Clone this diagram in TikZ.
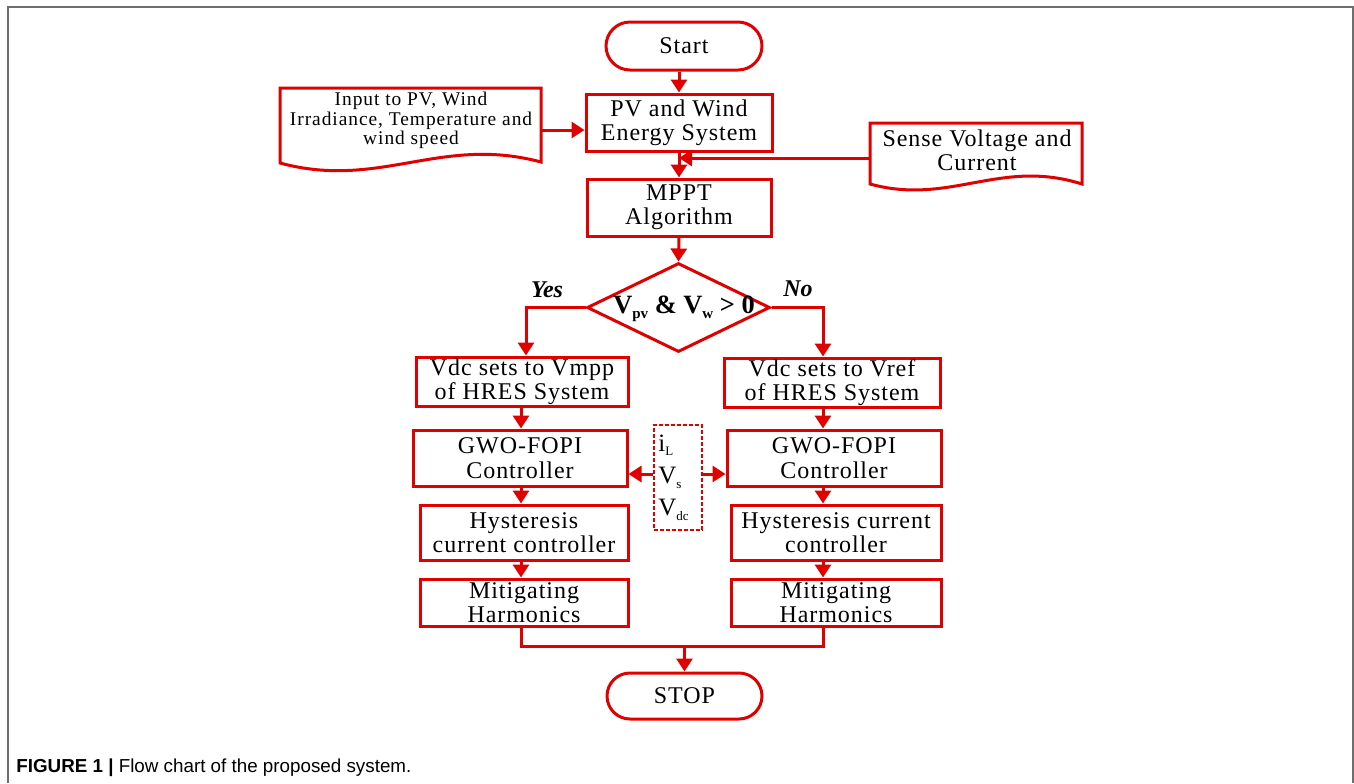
\documentclass[tikz,border=0pt]{standalone}
\usepackage{fontspec}
\setmainfont{Liberation Serif}
\newfontfamily\ffs{Liberation Serif}[LetterSpace=4]
\newfontfamily\ffi{Liberation Serif}[LetterSpace=5]
\newfontfamily\capfont{Liberation Sans}
\usetikzlibrary{shapes.geometric,arrows.meta,calc}
\definecolor{fcred}{RGB}{225,0,0}
\definecolor{framegray}{RGB}{110,110,110}
\begin{document}
\begin{tikzpicture}[x=0.5pt,y=-0.5pt,
  line/.style={draw=fcred,line width=1.5pt},
  arr/.style={line,-{Triangle[length=6.5pt,width=8pt]}},
  box/.style={draw=fcred,line width=1.5pt,rectangle,inner sep=0pt,align=center,font=\ffs\fontsize{12}{12.2}\selectfont},
  term/.style={box,rounded corners=12pt},
  shp/.style={inner sep=0pt,draw=none,rectangle},
  lab/.style={font=\fontsize{12}{13}\selectfont\bfseries\itshape},
]
\useasboundingbox (0,0) rectangle (1354,783);
% frame
\draw[framegray,line width=1pt] (8,783) -- (8,6.5) -- (1352.5,6.5) -- (1352.5,783);

% column coordinates
\coordinate (colY) at (526,0);
\coordinate (colL) at (521,0);
\coordinate (colR) at (823,0);

% nodes
\node[term,minimum width=78pt,minimum height=24pt] (start) at (684,46) {Start};
\node[box,minimum width=93pt,minimum height=28.5pt] (pv) at (679,122.5) {PV and Wind\\Energy System};
\node[box,minimum width=92pt,minimum height=28.5pt] (mppt) at (679,207.5) {MPPT\\Algorithm};
\node[diamond,draw=fcred,line width=1.5pt,inner sep=0pt,minimum width=91.5pt,minimum height=44.5pt] (dec) at (678.5,307.5) {};
\node[anchor=base,font=\fontsize{13.2}{14}\selectfont\bfseries,inner sep=0pt] (dect) at (684,313) {V{\fontsize{7.5}{8}\selectfont\raisebox{-2.5pt}{pv}} \& V{\fontsize{7.5}{8}\selectfont\raisebox{-2.5pt}{w}} > 0};
\node[lab] (yes) at (547,290) {Yes};
\node[lab] (no) at (798,289) {No};

\node[box,minimum width=106pt,minimum height=24.5pt] (vl) at (522,381.5) {Vdc sets to Vmpp\\of HRES System};
\node[box,minimum width=108pt,minimum height=24.5pt] (vr) at (832,382.5) {Vdc sets to Vref\\of HRES System};
\node[box,minimum width=107pt,minimum height=28pt] (gl) at (520,458) {GWO-FOPI\\Controller};
\node[box,minimum width=107pt,minimum height=28pt] (gr) at (834,458) {GWO-FOPI\\Controller};
\node[box,minimum width=104pt,minimum height=27.5pt] (hl) at (524,532.5) {Hysteresis\\current controller};
\node[box,minimum width=105pt,minimum height=27.5pt] (hr) at (836,532.5) {Hysteresis current\\controller};
\node[box,minimum width=104pt,minimum height=23.5pt] (ml) at (524,602.5) {Mitigating\\Harmonics};
\node[box,minimum width=105pt,minimum height=23.5pt] (mr) at (836,602.5) {Mitigating\\Harmonics};
\node[term,minimum width=77.5pt,minimum height=23pt,rounded corners=11.5pt] (stop) at (684.5,696) {STOP};

% measurement box
\node[draw=fcred,line width=1.2pt,dash pattern=on 1.8pt off 1.2pt,minimum width=24pt,minimum height=52.5pt,inner sep=0pt] (meas) at (678,477.5) {};
\node[anchor=west,align=left,inner sep=0pt,font=\fontsize{12.5}{16}\selectfont] (meast) at (658,477.5) {i{\fontsize{6.5}{7}\selectfont\raisebox{-2pt}{L}}\\V{\fontsize{6.5}{7}\selectfont\raisebox{-2.5pt}{s}}\\V{\fontsize{6.5}{7}\selectfont\raisebox{-2.5pt}{dc}}};

% document shapes
\node[shp,minimum width=130.5pt,minimum height=37.5pt] (input) at (410.5,125.5) {};
\draw[line] (280,163) -- (280,88) -- (541,88) -- (541,162) .. controls (440,135) and (380,190) .. (280,163) -- cycle;
\node[align=center,inner sep=0pt,font=\ffi\fontsize{9.7}{9.8}\selectfont] (inputt) at (411,120.5) {Input to PV, Wind\\Irradiance, Temperature and\\wind speed};

\node[shp,minimum width=106pt,minimum height=30.5pt] (sense) at (976,153.5) {};
\draw[line] (870,184) -- (870,123) -- (1082,123) -- (1082,184) .. controls (1000,158) and (950,206) .. (870,184) -- cycle;
\node[align=center,inner sep=0pt,font=\ffs\fontsize{12}{12.2}\selectfont] (senset) at (977,150) {Sense Voltage and\\Current};

% connectors
\draw[arr] (pv.north |- start.south) -- (pv.north);
\coordinate (inA) at ([yshift=-2.25pt]input.east);
\draw[arr] (inA) -- (inA -| pv.west);
\draw[arr] (pv.south) -- (mppt.north);
\coordinate (sA) at ([yshift=-2.25pt]sense.west);
\draw[arr] (sA) -- (sA -| pv.south);
\draw[arr] (mppt.south) -- (dec.north);
\draw[arr] (dec.west) -| (vl.north -| colY);
\draw[arr] (dec.east) -| (vr.north -| colR);

\draw[arr] (vl.south -| colL) -- (gl.north -| colL);
\draw[arr] (gl.south -| colL) -- (hl.north -| colL);
\draw[arr] (hl.south -| colL) -- (ml.north -| colL);
\draw[arr] (vr.south -| colR) -- (gr.north -| colR);
\draw[arr] (gr.south -| colR) -- (hr.north -| colR);
\draw[arr] (hr.south -| colR) -- (mr.north -| colR);

\coordinate (mA) at ([yshift=1.75pt]meas.west);
\draw[arr] (mA) -- (mA -| gl.east);
\coordinate (mB) at ([yshift=1.75pt]meas.east);
\draw[arr] (mB) -- (mB -| gr.west);

\coordinate (jn) at ([yshift=12.5pt]stop.north);
\draw[line] (ml.south -| colL) |- (jn) -| (mr.south -| colR);
\draw[arr] (jn) -- (stop.north);

% caption
\node[anchor=base west,inner sep=0pt,font=\capfont\fontsize{9.4}{11}\selectfont] (cap) at (16,772) {\textbf{FIGURE 1 |} Flow chart of the proposed system.};
\end{tikzpicture}
\end{document}
